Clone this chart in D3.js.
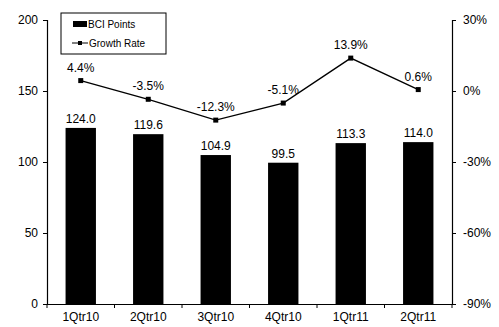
<!DOCTYPE html>
<html><head><meta charset="utf-8">
<script src="https://cdn.jsdelivr.net/npm/d3@7"></script>
<style>body{margin:0;background:#fff}svg{display:block}text{font-family:"Liberation Sans",Arial,sans-serif;fill:#000}</style>
</head><body><svg id="c" width="499" height="327"></svg>
<script>
const categories = ["1Qtr10","2Qtr10","3Qtr10","4Qtr10","1Qtr11","2Qtr11"];
const bciPoints = [124.0,119.6,104.9,99.5,113.3,114.0];
const growthRate = [4.4,-3.5,-12.3,-5.1,13.9,0.6];
const leftTicks = [0,50,100,150,200];
const rightTicks = [-90,-60,-30,0,30];

const svg = d3.select("#c");
const L=47, R=452, T=20, B=304;
const x = d3.scaleBand().domain(categories).range([L,R]).paddingInner(0.55).paddingOuter(0.275);
const xc = d3.scaleBand().domain(categories).range([L,R]);
const y = d3.scaleLinear().domain([0,200]).range([B,T]);
const y2 = d3.scaleLinear().domain([-90,30]).range([B,T]);

// bars
svg.selectAll("rect.bar").data(categories).join("rect")
  .attr("x",d=>x(d)).attr("width",x.bandwidth())
  .attr("y",(d,i)=>y(bciPoints[i])).attr("height",(d,i)=>B-y(bciPoints[i]))
  .attr("fill","#000");
svg.selectAll("text.bl").data(categories).join("text")
  .attr("x",d=>xc(d)+xc.bandwidth()/2).attr("y",(d,i)=>y(bciPoints[i])-5)
  .attr("text-anchor","middle").attr("font-size",12).text((d,i)=>bciPoints[i].toFixed(1));

// axes
const gl = svg.append("g").attr("transform",`translate(${L},0)`)
  .call(d3.axisLeft(y).tickValues(leftTicks).tickSize(4).tickPadding(5).tickFormat(d3.format("d")));
const gr = svg.append("g").attr("transform",`translate(${R},0)`)
  .call(d3.axisRight(y2).tickValues(rightTicks).tickSize(4).tickPadding(7).tickFormat(d=>d+"%"));
const gb = svg.append("g").attr("transform",`translate(0,${B})`)
  .call(d3.axisBottom(xc).tickSize(0).tickPadding(8));
// category boundary ticks
svg.append("g").selectAll("line").data(d3.range(categories.length+1)).join("line")
  .attr("x1",i=>L+i*xc.step()).attr("x2",i=>L+i*xc.step()).attr("y1",B).attr("y2",B+4)
  .attr("stroke","#000");
[gl,gr,gb].forEach(g=>{g.selectAll("path").attr("stroke","#000").attr("stroke-width",1.2);
  g.selectAll("text").attr("font-size",12).attr("font-family","Liberation Sans, Arial, sans-serif");
  g.selectAll(".tick line").attr("stroke","#000");});
gb.selectAll("path").attr("d",`M${L},0.5H${R}`);

// growth line
const line = d3.line().x((d,i)=>xc(categories[i])+xc.bandwidth()/2).y(d=>y2(d));
svg.append("path").datum(growthRate).attr("d",line).attr("fill","none").attr("stroke","#000").attr("stroke-width",1.3);
svg.selectAll("rect.mk").data(growthRate).join("rect")
  .attr("x",(d,i)=>xc(categories[i])+xc.bandwidth()/2-2.5).attr("y",d=>y2(d)-2.5)
  .attr("width",5).attr("height",5).attr("fill","#000");
svg.selectAll("text.gl").data(growthRate).join("text")
  .attr("x",(d,i)=>xc(categories[i])+xc.bandwidth()/2).attr("y",d=>y2(d)-9)
  .attr("text-anchor","middle").attr("font-size",12).text(d=>d.toFixed(1)+"%");

// legend
const lg = svg.append("g").attr("transform","translate(61,13)");
lg.append("rect").attr("width",105).attr("height",41).attr("fill","#fff").attr("stroke","#000").attr("stroke-width",1);
lg.append("rect").attr("x",12).attr("y",8).attr("width",14).attr("height",6).attr("fill","#000");
lg.append("text").attr("x",27).attr("y",15).attr("font-size",10).text("BCI Points");
lg.append("line").attr("x1",11).attr("x2",27).attr("y1",30).attr("y2",30).attr("stroke","#000");
lg.append("rect").attr("x",17).attr("y",28).attr("width",4).attr("height",4).attr("fill","#000");
lg.append("text").attr("x",28).attr("y",34).attr("font-size",10).text("Growth Rate");
</script></body></html>
